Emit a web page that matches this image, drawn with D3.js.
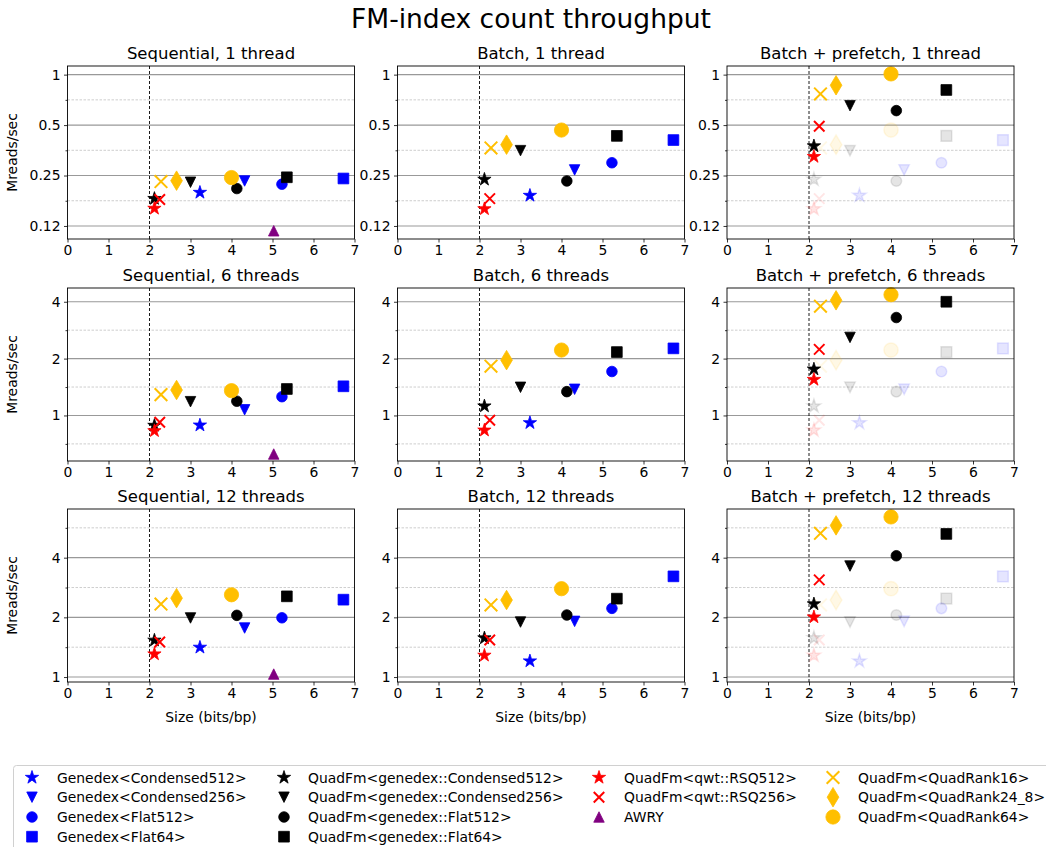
<!DOCTYPE html>
<html><head><meta charset="utf-8">
<script src="https://cdn.jsdelivr.net/npm/d3@7"></script>
<style>body{margin:0;background:#fff;} svg{display:block;font-family:"DejaVu Sans",sans-serif;}</style>
</head><body>
<script>
// ---------- data ----------
const seriesNames = ["Genedex<Condensed512>","Genedex<Condensed256>","Genedex<Flat512>","Genedex<Flat64>",
  "QuadFm<genedex::Condensed512>","QuadFm<genedex::Condensed256>","QuadFm<genedex::Flat512>","QuadFm<genedex::Flat64>",
  "QuadFm<qwt::RSQ512>","QuadFm<qwt::RSQ256>","AWRY",
  "QuadFm<QuadRank16>","QuadFm<QuadRank24_8>","QuadFm<QuadRank64>"];
const seriesSize = [3.23,4.32,5.23,6.73, 2.12,3.0,4.13,5.35, 2.12,2.25,5.03, 2.28,2.66,4.0];
const seriesColor = ["#0000ff","#0000ff","#0000ff","#0000ff","#000000","#000000","#000000","#000000",
  "#ff0000","#ff0000","#800080","#ffbf00","#ffbf00","#ffbf00"];
const seriesMarker = ["star","tridown","circle","square","star","tridown","circle","square",
  "star","x","triup","x","diamond","bigcircle"];

// values (Mreads/sec), null = not shown
const seq1   = [0.198,0.232,0.222,0.240, 0.182,0.228,0.209,0.244, 0.159,0.180,0.117, 0.230,0.233,0.243];
const batch1 = [0.190,0.270,0.298,0.407, 0.237,0.352,0.232,0.431, 0.158,0.182,null, 0.365,0.382,0.467];
const pref1  = [null,null,null,null, 0.375,0.653,0.610,0.810, 0.324,0.492,null, 0.767,0.864,1.01];
const seq6   = [0.888,1.072,1.257,1.427, 0.885,1.183,1.190,1.381, 0.829,0.921,0.625, 1.289,1.364,1.353];
const batch6 = [0.914,1.376,1.709,2.266, 1.121,1.410,1.337,2.166, 0.835,0.944,null, 1.824,1.963,2.22];
const pref6  = [null,null,null,null, 1.758,2.59,3.30,4.0, 1.549,2.238,null, 3.79,4.07,4.36];
const seq12  = [1.411,1.767,1.99,2.456, 1.532,1.986,2.047,2.553, 1.306,1.502,1.035, 2.335,2.50,2.60];
const batch12= [1.204,1.909,2.22,3.22, 1.573,1.894,2.055,2.485, 1.286,1.537,null, 2.309,2.446,2.79];
const pref12 = [null,null,null,null, 2.335,3.63,4.09,5.27, 2.007,3.09,null, 5.31,5.82,6.42];

const panelTitles = [["Sequential, 1 thread","Batch, 1 thread","Batch + prefetch, 1 thread"],
  ["Sequential, 6 threads","Batch, 6 threads","Batch + prefetch, 6 threads"],
  ["Sequential, 12 threads","Batch, 12 threads","Batch + prefetch, 12 threads"]];
const rowDomains = [[0.1045,1.126],[0.574,4.73],[0.944,7.04]];
const rowTicks = [[0.125,0.25,0.5,1],[1,2,4],[1,2,4]];
const rowTickLabels = [["0.12","0.25","0.5","1"],["1","2","4"],["1","2","4"]];
const xTicks = [0,1,2,3,4,5,6,7];

// ---------- layout ----------
const W=1046,H=847;
const colLeft=[67.5,397.5,727], pw=287;
const rowTop=[66,288,509], ph=173;
const FS="13.9px";

const svg=d3.select("body").append("svg").attr("width",W).attr("height",H);

svg.append("text").attr("x",531).attr("y",28).attr("text-anchor","middle")
  .style("font-size","26.5px").text("FM-index count throughput");

// custom symbol types (size = marker width squared)
const sym = {
  star: d3.symbolStar,
  circle: d3.symbolCircle,
  tridown: {draw(c,s){const r=Math.sqrt(s)/2;c.moveTo(0,r);c.lineTo(-r,-r);c.lineTo(r,-r);c.closePath();}},
  triup: {draw(c,s){const r=Math.sqrt(s)/2;c.moveTo(0,-r);c.lineTo(-r,r);c.lineTo(r,r);c.closePath();}},
  square: {draw(c,s){const r=Math.sqrt(s)/2;c.rect(-r,-r,2*r,2*r);}},
  diamond: {draw(c,s){const r=Math.sqrt(s)/2;const w=r*0.6;c.moveTo(0,-r);c.lineTo(w,0);c.lineTo(0,r);c.lineTo(-w,0);c.closePath();}},
  x: {draw(c,s){const r=Math.sqrt(s)/2;c.moveTo(-r,-r);c.lineTo(r,r);c.moveTo(-r,r);c.lineTo(r,-r);}},
};
function markerPath(m){
  switch(m){
    case "star": return d3.symbol(sym.star,55)();
    case "circle": return d3.symbol(sym.circle,88)();
    case "bigcircle": return d3.symbol(sym.circle,160)();
    case "tridown": return d3.symbol(sym.tridown,110)();
    case "triup": return d3.symbol(sym.triup,110)();
    case "square": return d3.symbol(sym.square,115)();
    case "diamond": return d3.symbol(sym.diamond,380)();
    case "x": return null;
  }
}
function xPath(i){ return d3.symbol(sym.x, seriesColor[i]==="#ffbf00"?160:110)(); }

function drawMarker(g,i,cx,cy,alpha){
  const m=seriesMarker[i], col=seriesColor[i];
  if(m==="x"){
    g.append("path").attr("d",xPath(i)).attr("transform",`translate(${cx},${cy})`)
      .attr("fill","none").attr("stroke",col).attr("stroke-width",2).attr("stroke-opacity",alpha);
  } else {
    g.append("path").attr("d",markerPath(m)).attr("transform",`translate(${cx},${cy})`)
      .attr("fill",col).attr("fill-opacity",alpha)
      .attr("stroke",col).attr("stroke-opacity",alpha).attr("stroke-width",alpha<1?1.5:0.8);
  }
}

const panelData=[[seq1,batch1,pref1],[seq6,batch6,pref6],[seq12,batch12,pref12]];

for(let r=0;r<3;r++){
  for(let c=0;c<3;c++){
    const x0=colLeft[c], y0=rowTop[r];
    const x=d3.scaleLinear().domain([0,7]).range([x0,x0+pw]);
    const y=d3.scaleLog().base(2).domain(rowDomains[r]).range([y0+ph,y0]);
    const g=svg.append("g");
    const [lo,hi]=rowDomains[r];
    // minor grid (sqrt2 multiples)
    const minor=[];
    for(let k=-5;k<5;k++){const v=Math.pow(2,k+0.5); if(v>lo&&v<hi) minor.push(v);}
    g.selectAll(".mg").data(minor).enter().append("line")
      .attr("x1",x0).attr("x2",x0+pw).attr("y1",d=>y(d)).attr("y2",d=>y(d))
      .attr("stroke","#c8c8c8").attr("stroke-width",0.9).attr("stroke-dasharray","2.5,1.5");
    g.selectAll(".Mg").data(rowTicks[r]).enter().append("line")
      .attr("x1",x0).attr("x2",x0+pw).attr("y1",d=>y(d)).attr("y2",d=>y(d))
      .attr("stroke","#999").attr("stroke-width",1.1);
    // vertical dashed at 2
    g.append("line").attr("x1",x(2)).attr("x2",x(2)).attr("y1",y0).attr("y2",y0+ph)
      .attr("stroke","#000").attr("stroke-width",0.9).attr("stroke-dasharray","3,2");
    // markers
    const mg=g.append("g");
    if(c===2){
      const faded=panelData[r][1];
      faded.forEach((v,i)=>{ if(v!=null) drawMarker(mg,i,x(seriesSize[i]),y(v),0.1); });
    }
    const vals=panelData[r][c];
    vals.forEach((v,i)=>{ if(v!=null) drawMarker(mg,i,x(seriesSize[i]),y(v),1); });
    // frame
    g.append("rect").attr("x",x0).attr("y",y0).attr("width",pw).attr("height",ph)
      .attr("fill","none").attr("stroke","#000").attr("stroke-width",0.9);
    // axes
    const ax=g.append("g").attr("transform",`translate(0,${y0+ph})`)
      .call(d3.axisBottom(x).tickValues(xTicks).tickFormat(d3.format("d")).tickSize(3.5).tickPadding(3));
    const ay=g.append("g").attr("transform",`translate(${x0},0)`)
      .call(d3.axisLeft(y).tickValues(rowTicks[r]).tickFormat((d,i)=>rowTickLabels[r][i]).tickSize(3.5).tickPadding(3.5));
    const aym=g.append("g").attr("transform",`translate(${x0},0)`)
      .call(d3.axisLeft(y).tickValues(minor).tickFormat("").tickSize(2));
    [ax,ay,aym].forEach(a=>{a.select(".domain").remove(); a.selectAll("text").style("font-size",FS).attr("fill","#000").style("font-family","DejaVu Sans");
      a.selectAll("line").attr("stroke","#000").attr("stroke-width",0.8);});
    // title
    svg.append("text").attr("x",x0+pw/2).attr("y",y0-7).attr("text-anchor","middle")
      .style("font-size","16.5px").text(panelTitles[r][c]);
    if(c===0){
      svg.append("text").attr("transform",`translate(17,${y0+ph/2}) rotate(-90)`)
        .attr("text-anchor","middle").style("font-size",FS).text("Mreads/sec");
    }
    if(r===2){
      svg.append("text").attr("x",x0+pw/2).attr("y",y0+ph+40).attr("text-anchor","middle")
        .style("font-size",FS).text("Size (bits/bp)");
    }
  }
}

// ---------- legend ----------
const leg=svg.append("g");
leg.append("rect").attr("x",13.5).attr("y",765.5).attr("width",1060).attr("height",100).attr("rx",3)
  .attr("fill","#fff").attr("stroke","#d0d0d0").attr("stroke-width",1);
const legendCols=[[0,1,2,3],[4,5,6,7],[8,9,10],[11,12,13]];
const legMarkX=[32,284,599,833], legTextX=[57,308,624,858];
const legRowY=[777.5,797.2,817,836.7];
legendCols.forEach((col,ci)=>{
  col.forEach((i,ri)=>{
    drawMarker(leg,i,legMarkX[ci],legRowY[ri],1);
    leg.append("text").attr("x",legTextX[ci]).attr("y",legRowY[ri]).attr("dy","0.36em")
      .style("font-size",FS).text(seriesNames[i]);
  });
});
</script>
</body></html>
